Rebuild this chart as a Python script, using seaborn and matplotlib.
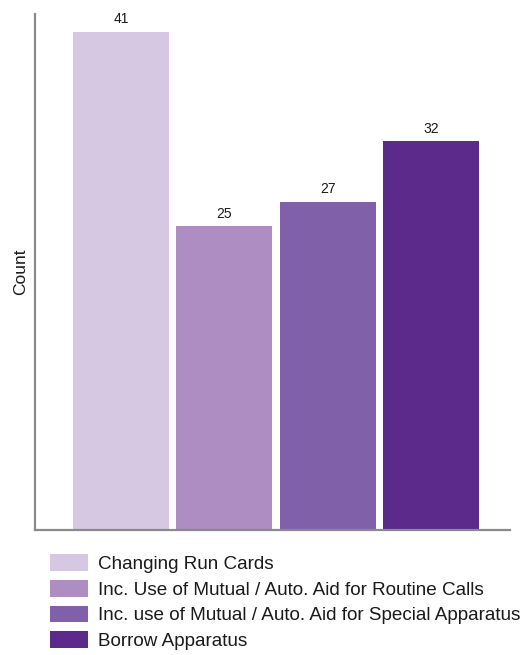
import matplotlib
matplotlib.use("Agg")
import matplotlib.pyplot as plt
import seaborn as sns
import pandas as pd
from matplotlib.patches import Patch

categories = [
    "Changing Run Cards",
    "Inc. Use of Mutual / Auto. Aid for Routine Calls",
    "Inc. use of Mutual / Auto. Aid for Special Apparatus",
    "Borrow Apparatus",
]
counts = [41, 25, 27, 32]
colors = ["#d6c8e2", "#ae8dc2", "#8160aa", "#5c2a8a"]

sns.set_theme(style="white")
plt.rcParams["font.family"] = ["Liberation Sans", "DejaVu Sans"]

df = pd.DataFrame({"category": categories, "count": counts})

fig = plt.figure(figsize=(5.31, 6.55), dpi=100)
ax = fig.add_axes([0.066, 0.191, 0.894, 0.788])

sns.barplot(data=df, x="category", y="count", hue="category",
            palette=colors, width=0.93, legend=False, ax=ax,
            saturation=1, edgecolor="none")

for container in ax.containers:
    ax.bar_label(container, fmt="%d", padding=4, fontsize=10, color="#1a1a1a")

ax.set_xlim(-0.83, 3.76)
ax.set_ylim(0, 42.5)
ax.set_xticks([])
ax.set_yticks([])
ax.set_xlabel("")
ax.set_ylabel("Count", fontsize=12.5, color="#1a1a1a", labelpad=5)

for side in ("top", "right"):
    ax.spines[side].set_visible(False)
for side in ("left", "bottom"):
    ax.spines[side].set_color("#8a8a8a")
    ax.spines[side].set_linewidth(1.6)

handles = [Patch(facecolor=c, edgecolor="none", label=l) for c, l in zip(colors, categories)]
fig.legend(handles=handles, loc="upper left", bbox_to_anchor=(0.094, 0.154),
           frameon=False, fontsize=13.6, handlelength=2.0, handleheight=1.0,
           handletextpad=0.53, labelspacing=0.36, borderpad=0, borderaxespad=0,
           labelcolor="#1a1a1a")

fig.savefig("out.png", dpi=100)
